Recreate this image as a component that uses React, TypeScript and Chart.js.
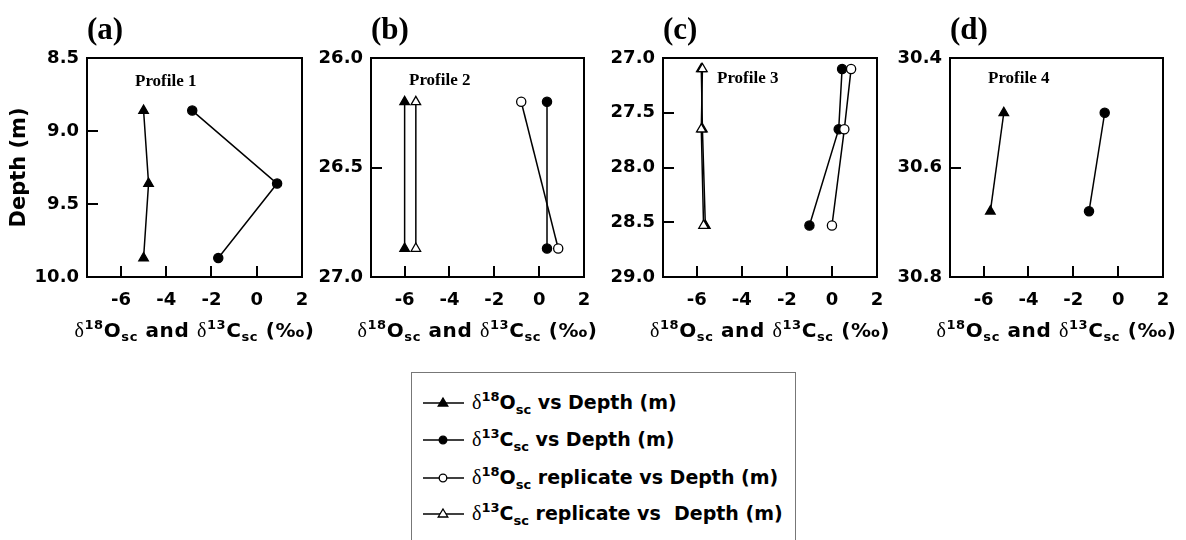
import React, { useEffect, useRef } from "react";
import { Chart, registerables } from "chart.js";

Chart.register(...registerables);

// ---------- data ----------
const xTicks = [-6, -4, -2, 0, 2];
const xMin = -7.5;
const xMax = 2;

const panelLabels = ["(a)", "(b)", "(c)", "(d)"];
const profileNames = ["Profile 1", "Profile 2", "Profile 3", "Profile 4"];
const yAxisTitle = "Depth (m)";

// Profile 1
const depthA = [8.86, 9.36, 9.87];
const o18A = [-5.0, -4.78, -5.0];
const c13A = [-2.85, 0.9, -1.7];
const yTicksA = [8.5, 9.0, 9.5, 10.0];

// Profile 2
const depthB = [26.2, 26.87];
const o18B = [-6.0, -6.0];
const c13B = [0.35, 0.35];
const o18RepB = [-0.8, 0.85];
const c13RepB = [-5.5, -5.5];
const yTicksB = [26.0, 26.5, 27.0];

// Profile 3
const depthC = [27.1, 27.65, 28.53];
const o18C = [-5.8, -5.75, -5.62];
const c13C = [0.45, 0.3, -1.0];
const o18RepC = [0.85, 0.55, 0.0];
const c13RepC = [-5.75, -5.8, -5.7];
const yTicksC = [27.0, 27.5, 28.0, 28.5, 29.0];

// Profile 4
const depthD = [30.5, 30.68];
const o18D = [-5.1, -5.7];
const c13D = [-0.6, -1.3];
const yTicksD = [30.4, 30.6, 30.8];

// legend texts
const legendIso = ["18", "13", "18", "13"];
const legendElem = ["O", "C", "O", "C"];
const legendRest = [" vs Depth (m)", " vs Depth (m)", " replicate vs Depth (m)", " replicate vs  Depth (m)"];
const legendKinds = ["o18", "c13", "o18Rep", "c13Rep"];

// axis title parts
const xTitleParts: [string, string][] = [
  ["δ", "greek"], ["18", "sup"], ["O", "main"], ["sc", "sub"], [" and ", "main"],
  ["δ", "greek"], ["13", "sup"], ["C", "main"], ["sc", "sub"], [" (‰)", "main"],
];

// ---------- layout / style ----------
const W = 1186;
const H = 540;
const CH = 350;
const PLOT_TOP = 58;
const PLOT_BOTTOM = 277;
const SANS = '"DejaVu Sans", Verdana, sans-serif';
const SERIF = '"Liberation Serif", "Times New Roman", serif';

const kindStyle: Record<string, any> = {
  o18: { pointStyle: "triangle", fill: "#000", radius: 5.5, order: 1 },
  c13: { pointStyle: "circle", fill: "#000", radius: 4.6, order: 1 },
  o18Rep: { pointStyle: "circle", fill: "#fff", radius: 4.6, order: 0 },
  c13Rep: { pointStyle: "triangle", fill: "#fff", radius: 5.5, order: 0 },
};

const panels = [
  {
    label: panelLabels[0], profile: profileNames[0], depth: depthA, yTicks: yTicksA,
    series: [["o18", o18A], ["c13", c13A]],
    chartLeft: 87, chartRight: 302, yAxisWidth: 87, showYTitle: true, profileDx: 48, profileDy: 24,
  },
  {
    label: panelLabels[1], profile: profileNames[1], depth: depthB, yTicks: yTicksB,
    series: [["o18", o18B], ["c13", c13B], ["o18Rep", o18RepB], ["c13Rep", c13RepB]],
    chartLeft: 371, chartRight: 584, yAxisWidth: 70, showYTitle: false, profileDx: 38, profileDy: 23,
  },
  {
    label: panelLabels[2], profile: profileNames[2], depth: depthC, yTicks: yTicksC,
    series: [["o18", o18C], ["c13", c13C], ["o18Rep", o18RepC], ["c13Rep", c13RepC]],
    chartLeft: 663, chartRight: 877, yAxisWidth: 70, showYTitle: false, profileDx: 54, profileDy: 21,
  },
  {
    label: panelLabels[3], profile: profileNames[3], depth: depthD, yTicks: yTicksD,
    series: [["o18", o18D], ["c13", c13D]],
    chartLeft: 950, chartRight: 1163, yAxisWidth: 70, showYTitle: false, profileDx: 38, profileDy: 21,
  },
];

const partFont: Record<string, string> = {
  greek: `20px ${SERIF}`,
  sup: `bold 13px ${SANS}`,
  sub: `bold 13px ${SANS}`,
  main: `bold 20px ${SANS}`,
};
const partDy: Record<string, number> = { greek: 0, sup: -8, sub: 4, main: 0 };

const decorPlugin = {
  id: "panelDecor",
  afterDraw(chart: any, _args: any, opts: any) {
    const { ctx, chartArea } = chart;
    const { left, right, top, bottom } = chartArea;
    ctx.save();
    // frame
    ctx.strokeStyle = "#000";
    ctx.lineWidth = 2;
    ctx.strokeRect(left, top, right - left, bottom - top);
    // inward ticks
    const xs = chart.scales.x;
    const ys = chart.scales.y;
    ctx.beginPath();
    xs.ticks.forEach((t: any) => {
      const px = Math.round(xs.getPixelForValue(t.value));
      if (px > left + 3 && px < right - 3) {
        ctx.moveTo(px, bottom);
        ctx.lineTo(px, bottom - 11);
      }
    });
    ys.ticks.forEach((t: any) => {
      const py = Math.round(ys.getPixelForValue(t.value));
      if (py > top + 3 && py < bottom - 3) {
        ctx.moveTo(left, py);
        ctx.lineTo(left + 11, py);
      }
    });
    ctx.stroke();
    // profile label
    ctx.fillStyle = "#000";
    ctx.font = `bold 17px ${SERIF}`;
    ctx.textAlign = "left";
    ctx.textBaseline = "middle";
    ctx.fillText(opts.profile, left + opts.profileDx, top + opts.profileDy);
    // x axis title (rich text)
    ctx.textBaseline = "alphabetic";
    ctx.letterSpacing = "0.6px";
    let total = 0;
    xTitleParts.forEach(([t, k]) => {
      ctx.font = partFont[k];
      total += ctx.measureText(t).width;
    });
    let x = (left + right) / 2 - total / 2;
    const base = 337;
    xTitleParts.forEach(([t, k]) => {
      ctx.font = partFont[k];
      ctx.fillText(t, x, base + partDy[k]);
      x += ctx.measureText(t).width;
    });
    ctx.letterSpacing = "0px";
    ctx.restore();
  },
};

function Panel({ cfg }: { cfg: any }) {
  const ref = useRef<HTMLCanvasElement | null>(null);
  useEffect(() => {
    if (!ref.current) return;
    const datasets = cfg.series.map(([kind, values]: [string, number[]]) => {
      const st = kindStyle[kind];
      return {
        label: kind,
        data: values.map((v: number, i: number) => ({ x: v, y: cfg.depth[i] })),
        borderColor: "#000",
        borderWidth: 1.5,
        backgroundColor: st.fill,
        pointStyle: st.pointStyle,
        pointRadius: st.radius,
        pointBackgroundColor: st.fill,
        pointBorderColor: "#000",
        pointBorderWidth: 1.3,
        fill: false,
        tension: 0,
        clip: false,
        order: st.order,
      };
    });
    const chart = new Chart(ref.current, {
      type: "line",
      data: { datasets },
      plugins: [decorPlugin],
      options: {
        responsive: false,
        animation: false,
        devicePixelRatio: 1,
        events: [],
        layout: {
          padding: { left: cfg.chartLeft - cfg.yAxisWidth, right: W - cfg.chartRight, top: 0, bottom: 0 },
        },
        plugins: {
          legend: { display: false },
          tooltip: { enabled: false },
          title: {
            display: true,
            text: cfg.label,
            align: "start",
            fullSize: false,
            color: "#000",
            font: { family: SERIF, size: 31, weight: "bold" },
            padding: { top: 12, bottom: PLOT_TOP - 12 - 31 * 1.2 },
          },
          panelDecor: { profile: cfg.profile, profileDx: cfg.profileDx, profileDy: cfg.profileDy },
        } as any,
        scales: {
          x: {
            type: "linear",
            position: "bottom",
            min: xMin,
            max: xMax,
            grid: { display: false, drawTicks: false },
            border: { display: false },
            ticks: {
              color: "#000",
              font: { family: SANS, size: 18, weight: "bold" },
              padding: 13,
              autoSkip: false,
              maxRotation: 0,
              callback: (v: any) => String(v),
            },
            afterBuildTicks: (s: any) => {
              s.ticks = xTicks.map((v) => ({ value: v }));
            },
            afterFit: (s: any) => {
              s.height = CH - PLOT_BOTTOM;
            },
          },
          y: {
            type: "linear",
            position: "left",
            reverse: true,
            min: cfg.yTicks[0],
            max: cfg.yTicks[cfg.yTicks.length - 1],
            grid: { display: false, drawTicks: false },
            border: { display: false },
            ticks: {
              color: "#000",
              font: { family: SANS, size: 18, weight: "bold" },
              padding: 8,
              autoSkip: false,
              callback: (v: any) => Number(v).toFixed(1),
            },
            title: {
              display: cfg.showYTitle,
              text: yAxisTitle,
              color: "#000",
              font: { family: SANS, size: 21, weight: "bold" },
              padding: { top: 7, bottom: 0 },
            },
            afterBuildTicks: (s: any) => {
              s.ticks = cfg.yTicks.map((v: number) => ({ value: v }));
            },
            afterFit: (s: any) => {
              s.width = cfg.yAxisWidth;
            },
          },
        },
      } as any,
    });
    return () => chart.destroy();
  }, [cfg]);
  return (
    <canvas
      ref={ref}
      width={W}
      height={CH}
      style={{ position: "absolute", left: 0, top: 0, width: W, height: CH }}
    />
  );
}

function Marker({ kind }: { kind: string }) {
  const st = kindStyle[kind];
  const cx = 21;
  const cy = 8;
  return (
    <svg width={44} height={16} style={{ display: "block" }}>
      <line x1={1} y1={cy} x2={42} y2={cy} stroke="#000" strokeWidth={1.6} />
      {st.pointStyle === "triangle" ? (
        <polygon
          points={`${cx},${cy - 5} ${cx + 4.8},${cy + 3} ${cx - 4.8},${cy + 3}`}
          fill={st.fill}
          stroke="#000"
          strokeWidth={1.3}
        />
      ) : (
        <circle cx={cx} cy={cy} r={3.8} fill={st.fill} stroke="#000" strokeWidth={1.3} />
      )}
    </svg>
  );
}

function Legend() {
  const rowCenters = [30, 67, 105, 141];
  return (
    <div
      style={{
        position: "absolute",
        left: 411,
        top: 372,
        width: 385,
        height: 200,
        border: "1px solid #777",
        boxSizing: "border-box",
        background: "#fff",
      }}
    >
      {legendKinds.map((k, i) => (
        <div
          key={k}
          style={{
            position: "absolute",
            left: 10,
            top: rowCenters[i] - 14,
            height: 28,
            display: "flex",
            alignItems: "center",
            whiteSpace: "pre",
            color: "#000",
          }}
        >
          <Marker kind={k} />
          <span style={{ marginLeft: 6, fontFamily: SANS, fontWeight: "bold", fontSize: 19, lineHeight: "28px" }}>
            <span style={{ fontFamily: SERIF, fontWeight: "normal", fontSize: 20 }}>δ</span>
            <span style={{ fontSize: 13, position: "relative", top: -8 }}>{legendIso[i]}</span>
            <span>{legendElem[i]}</span>
            <span style={{ fontSize: 13, position: "relative", top: 5 }}>sc</span>
            <span>{legendRest[i]}</span>
          </span>
        </div>
      ))}
    </div>
  );
}

export default function App() {
  return (
    <div
      style={{
        position: "absolute",
        left: 0,
        top: 0,
        width: W,
        height: H,
        overflow: "hidden",
        background: "#fff",
      }}
    >
      {panels.map((p) => (
        <Panel key={p.label} cfg={p} />
      ))}
      <Legend />
    </div>
  );
}
